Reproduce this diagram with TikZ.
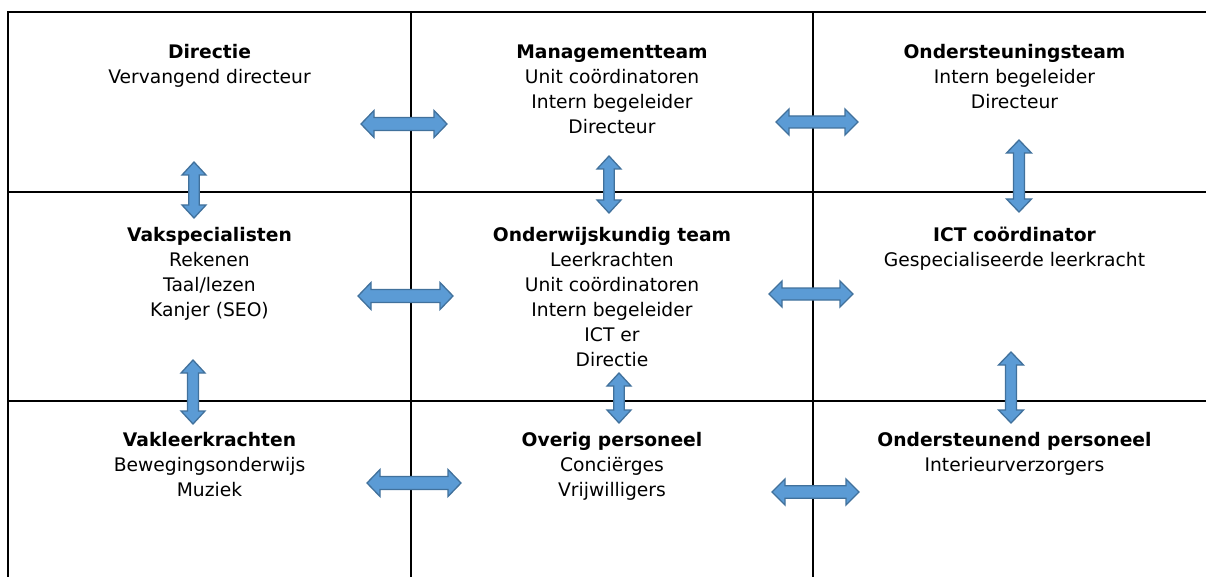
\documentclass[tikz,border=0pt]{standalone}
\usepackage{fontspec}
\setmainfont{DejaVu Sans}
\definecolor{arrfill}{HTML}{5B9BD5}
\definecolor{arrline}{HTML}{41719C}
\begin{document}
\begin{tikzpicture}[x=1pt,y=-1pt,
  grid/.style={line width=2pt,black},
  celltext/.style={anchor=north,align=center,inner sep=0pt,font=\fontsize{18.7}{25}\selectfont},
  arrowshape/.style={fill=arrfill,draw=arrline,line width=1.3pt,line join=miter},
  pics/dblarrow/.style n args={3}{code={
    \draw[arrowshape] (-#1,0) -- (-#1+13,#2) -- (-#1+13,#3) -- (#1-13,#3) -- (#1-13,#2) -- (#1,0)
      -- (#1-13,-#2) -- (#1-13,-#3) -- (-#1+13,-#3) -- (-#1+13,-#2) -- cycle;}}
]
\useasboundingbox (0,0) rectangle (1206,577);
% grid
\draw[grid] (8,577) -- (8,12) -- (1206,12);
\draw[grid] (8,192) -- (1206,192);
\draw[grid] (8,401) -- (1206,401);
\draw[grid] (411,12) -- (411,577);
\draw[grid] (813,12) -- (813,577);
% texts
\newcommand{\ttl}[1]{\textbf{#1}\strut}
\node[celltext] (directie) at (209.5,40.5) {\ttl{Directie}\\Vervangend directeur\strut};
\node[celltext] (mt) at (612,40.5) {\ttl{Managementteam}\\Unit coördinatoren\strut\\Intern begeleider\strut\\Directeur\strut};
\node[celltext] (ot) at (1014.5,40.5) {\ttl{Ondersteuningsteam}\\Intern begeleider\strut\\Directeur\strut};
\node[celltext] (vs) at (209.5,224) {\ttl{Vakspecialisten}\\Rekenen\strut\\Taal/lezen\strut\\Kanjer (SEO)\strut};
\node[celltext] (ok) at (612,224) {\ttl{Onderwijskundig team}\\Leerkrachten\strut\\Unit coördinatoren\strut\\Intern begeleider\strut\\ICT er\strut\\Directie\strut};
\node[celltext] (ict) at (1014.5,224) {\ttl{ICT coördinator}\\Gespecialiseerde leerkracht\strut};
\node[celltext] (vk) at (209.5,429) {\ttl{Vakleerkrachten}\\Bewegingsonderwijs\strut\\Muziek\strut};
\node[celltext] (op) at (612,429) {\ttl{Overig personeel}\\Conciërges\strut\\Vrijwilligers\strut};
\node[celltext] (onp) at (1014.5,429) {\ttl{Ondersteunend personeel}\\Interieurverzorgers\strut};
% horizontal arrows
\pic at (404,124) {dblarrow={43}{13.5}{6.5}};
\pic at (817,122) {dblarrow={41}{13}{6}};
\pic at (405.5,296) {dblarrow={47.5}{13.5}{6.5}};
\pic at (811,294) {dblarrow={42}{13}{6}};
\pic at (414,483) {dblarrow={47}{13.5}{6.5}};
\pic at (815.5,492) {dblarrow={43.5}{13}{6.3}};
% vertical arrows
\pic[rotate=90] at (194,190) {dblarrow={28}{12}{5.2}};
\pic[rotate=90] at (609,184.5) {dblarrow={28.5}{12}{5.2}};
\pic[rotate=90] at (1019,176) {dblarrow={36}{12.5}{5.5}};
\pic[rotate=90] at (193,392) {dblarrow={32}{12}{5.5}};
\pic[rotate=90] at (619,398) {dblarrow={25}{12}{5.2}};
\pic[rotate=90] at (1011,387.5) {dblarrow={35.5}{12.5}{5.5}};
\end{tikzpicture}
\end{document}
